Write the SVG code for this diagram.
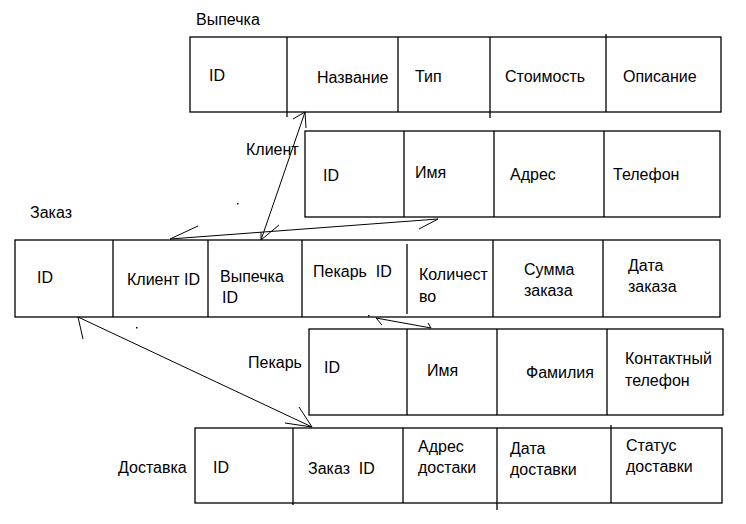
<svg xmlns="http://www.w3.org/2000/svg" width="746" height="524" viewBox="0 0 746 524">
<style>
.t{font-family:"Liberation Sans",Arial,sans-serif;font-size:16px;fill:#000;white-space:pre}
.b{fill:none;stroke:#000;stroke-width:1.3}
.c{fill:none;stroke:#000;stroke-width:1}
</style>
<rect width="746" height="524" fill="#fff"/>
<g id="vypechka">
<text class="t" x="196" y="25">Выпечка</text>
<rect class="b" x="190" y="37" width="531" height="75"/>
<path class="b" d="M287 37V117M398 37V112M490 37V118M606 34V112"/>
<text class="t" x="209" y="81">ID</text>
<text class="t" x="317" y="83">Название</text>
<text class="t" x="415" y="82">Тип</text>
<text class="t" x="505" y="82">Стоимость</text>
<text class="t" x="623" y="82">Описание</text>
</g>
<g id="klient">
<text class="t" x="246" y="155">Клиент</text>
<rect class="b" x="305" y="131" width="415" height="86"/>
<path class="b" d="M404 131V217M494 131V217M604 131V217"/>
<text class="t" x="323" y="181">ID</text>
<text class="t" x="415" y="178">Имя</text>
<text class="t" x="510" y="180">Адрес</text>
<text class="t" x="613" y="180">Телефон</text>
</g>
<g id="zakaz">
<text class="t" x="30" y="218">Заказ</text>
<rect class="b" x="15" y="240" width="705" height="77"/>
<path class="b" d="M113 240V317M208 240V317M302 240V317M407 244V314M493 240V317M603 240V317"/>
<text class="t" x="37" y="283">ID</text>
<text class="t" x="127" y="285">Клиент ID</text>
<text class="t" x="220" y="282">Выпечка</text>
<text class="t" x="222" y="303">ID</text>
<text class="t" x="313" y="277">Пекарь  ID</text>
<text class="t" x="419" y="280">Количест</text>
<text class="t" x="419" y="302">во</text>
<text class="t" x="524" y="275">Сумма</text>
<text class="t" x="524" y="296">заказа</text>
<text class="t" x="628" y="271">Дата</text>
<text class="t" x="628" y="292">заказа</text>
</g>
<g id="pekar">
<text class="t" x="248" y="368">Пекарь</text>
<rect class="b" x="309" y="329" width="414" height="86"/>
<path class="b" d="M407 329V415M497 329V415M607 329V415"/>
<text class="t" x="324" y="373">ID</text>
<text class="t" x="427" y="376">Имя</text>
<text class="t" x="526" y="378">Фамилия</text>
<text class="t" x="625" y="364">Контактный</text>
<text class="t" x="625" y="386">телефон</text>
</g>
<g id="dostavka">
<text class="t" x="118" y="473">Доставка</text>
<rect class="b" x="195" y="428" width="527" height="75"/>
<path class="b" d="M293 428V505M403 428V503M497 428V510M611 425V503"/>
<text class="t" x="213" y="473">ID</text>
<text class="t" x="308" y="474">Заказ  ID</text>
<text class="t" x="418" y="452">Адрес</text>
<text class="t" x="418" y="473">достаки</text>
<text class="t" x="510" y="454">Дата</text>
<text class="t" x="510" y="475">доставки</text>
<text class="t" x="626" y="451">Статус</text>
<text class="t" x="626" y="472">доставки</text>
</g>
<g id="connectors">
<path class="c" d="M305 112L261 240M293 119L305 112L306 128M261 232L261 240L279 225"/>
<path class="c" d="M438 219L170 239M198 226L170 239M419 229L438 219"/>
<path class="c" d="M78 317L312 427M83 339L78 317M299 407L312 427L285 423"/>
<path class="c" d="M376 318L431 328M382 325L376 318M428 323L431 328"/>
<rect x="136" y="327" width="1.5" height="1.5" fill="#000"/>
<rect x="237" y="203" width="1.5" height="1.5" fill="#000"/>
<rect x="368" y="315" width="1.5" height="1.5" fill="#000"/>
</g>
</svg>
